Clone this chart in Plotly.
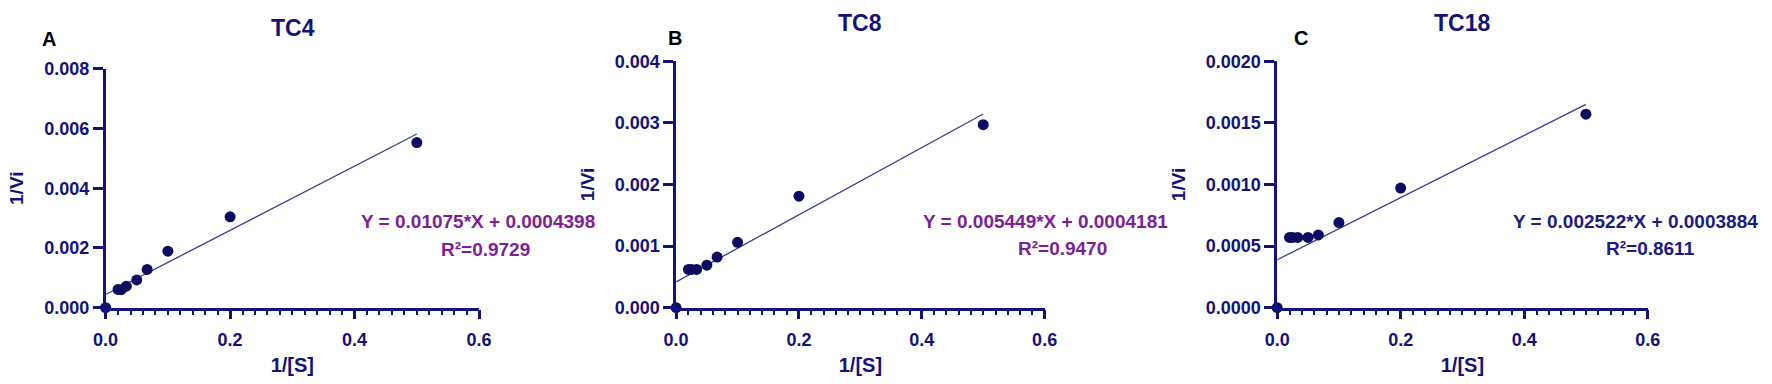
import plotly.graph_objects as go

W, H = 1772, 384

# ---- data ----
x_vals = [0, 0.02, 0.025, 0.0333, 0.05, 0.0667, 0.1, 0.2, 0.5]
y_tc4 = [0, 0.00061, 0.00060, 0.00072, 0.00093, 0.00128, 0.00189, 0.00304, 0.00553]
y_tc8 = [0, 0.00062, 0.00062, 0.00062, 0.00069, 0.00082, 0.00106, 0.00181, 0.00297]
y_tc18 = [0, 0.00057, 0.00057, 0.00057, 0.00057, 0.00059, 0.00069, 0.00097, 0.00157]

slopes = [0.01075, 0.005449, 0.002522]
intercepts = [0.0004398, 0.0004181, 0.0003884]
r2_vals = ["0.9729", "0.9470", "0.8611"]
fit_x = [0, 0.5]

titles = ["TC4", "TC8", "TC18"]
letters = ["A", "B", "C"]
x_title = "1/[S]"
y_title = "1/Vi"
y_ranges = [[0, 0.008], [0, 0.004], [0, 0.002]]
y_dticks = [0.002, 0.001, 0.0005]
y_formats = [".3f", ".3f", ".4f"]
x_range = [0, 0.6]

# ---- style ----
NAVY = "#12127a"
DOT = "#0c0c60"
LINE = "#3a3a9c"
PURPLE = "#7e1e96"
eq_colors = [PURPLE, PURPLE, "#1c1c80"]
FONT = "Arial, Liberation Sans, sans-serif"

# panel pixel boxes: (left, right, top, bottom)
boxes = [(94, 473, 62, 314), (673, 1047, 54, 314), (1283, 1659, 54, 314)]
title_pos = [(284, 19.5), (860, 13.5), (1471, 13.5)]
letter_pos = [(37, 31), (672, 30), (1307, 30)]
eq_pos = [(472, 223), (1048, 223), (1647, 223)]
r2_pos = [(480, 253), (1065, 252), (1662, 252)]


def px(x):
    return x / W


def py(y):
    return 1 - y / H


ys = [y_tc4, y_tc8, y_tc18]
fig = go.Figure()
layout = dict(
    width=W, height=H, margin=dict(l=0, r=0, t=0, b=0),
    paper_bgcolor="white", plot_bgcolor="white", showlegend=False,
    annotations=[],
)

for i in range(3):
    sfx = "" if i == 0 else str(i + 1)
    xa, ya = "x" + sfx, "y" + sfx
    l, r, t, b = boxes[i]
    fit_y = [slopes[i] * v + intercepts[i] for v in fit_x]
    fig.add_trace(go.Scatter(x=fit_x, y=fit_y, mode="lines",
                             line=dict(color=LINE, width=1.3),
                             xaxis=xa, yaxis=ya, hoverinfo="skip"))
    fig.add_trace(go.Scatter(x=x_vals, y=ys[i], mode="markers",
                             marker=dict(color=DOT, size=11),
                             cliponaxis=False, xaxis=xa, yaxis=ya))
    layout["xaxis" + sfx] = dict(
        domain=[px(l), px(r)], anchor=ya, range=x_range, dtick=0.2,
        tickformat=".1f", showgrid=False, zeroline=False,
        showline=True, linecolor=NAVY, linewidth=2.5,
        ticks="outside", ticklen=9, tickwidth=2.5, tickcolor=NAVY,
        ticklabelstandoff=5,
        tickfont=dict(family=FONT, size=18, color=NAVY, weight="bold"),
        minor=dict(dtick=0.02, ticks="outside", ticklen=5, tickwidth=2,
                   tickcolor=NAVY, showgrid=False),
        title=dict(text=x_title, standoff=10,
                   font=dict(family=FONT, size=20, color=NAVY, weight="bold")),
    )
    layout["yaxis" + sfx] = dict(
        domain=[py(b), py(t)], anchor=xa, range=y_ranges[i],
        dtick=y_dticks[i], tickformat=y_formats[i], showgrid=False,
        zeroline=False, showline=True, linecolor=NAVY, linewidth=2.5,
        ticks="outside", ticklen=10, tickwidth=2.5, tickcolor=NAVY,
        tickfont=dict(family=FONT, size=18, color=NAVY, weight="bold"),
        title=dict(text=y_title, standoff=16,
                   font=dict(family=FONT, size=19, color=NAVY, weight="bold")),
    )
    ann = layout["annotations"]
    ann.append(dict(text=titles[i], x=px(title_pos[i][0]), y=py(title_pos[i][1]),
                    xref="paper", yref="paper", showarrow=False,
                    xanchor="center", yanchor="middle",
                    font=dict(family=FONT, size=23, color=NAVY, weight="bold")))
    ann.append(dict(text=letters[i], x=px(letter_pos[i][0]), y=py(letter_pos[i][1]),
                    xref="paper", yref="paper", showarrow=False,
                    xanchor="center", yanchor="middle",
                    font=dict(family=FONT, size=20, color="black", weight="bold")))
    eq_text = "Y = %s*X + %s" % (str(slopes[i]), ("%.7f" % intercepts[i]).rstrip("0"))
    ann.append(dict(text=eq_text, x=px(eq_pos[i][0]), y=py(eq_pos[i][1]),
                    xref="paper", yref="paper", showarrow=False,
                    xanchor="center", yanchor="middle",
                    font=dict(family=FONT, size=19, color=eq_colors[i], weight="bold")))
    ann.append(dict(text="R\u00b2=" + r2_vals[i], x=px(r2_pos[i][0]), y=py(r2_pos[i][1]),
                    xref="paper", yref="paper", showarrow=False,
                    xanchor="center", yanchor="middle",
                    font=dict(family=FONT, size=19, color=eq_colors[i], weight="bold")))

fig.update_layout(**layout)
fig.write_html("out.html", config={"displayModeBar": False},
               post_script="document.body.style.margin='0';")
